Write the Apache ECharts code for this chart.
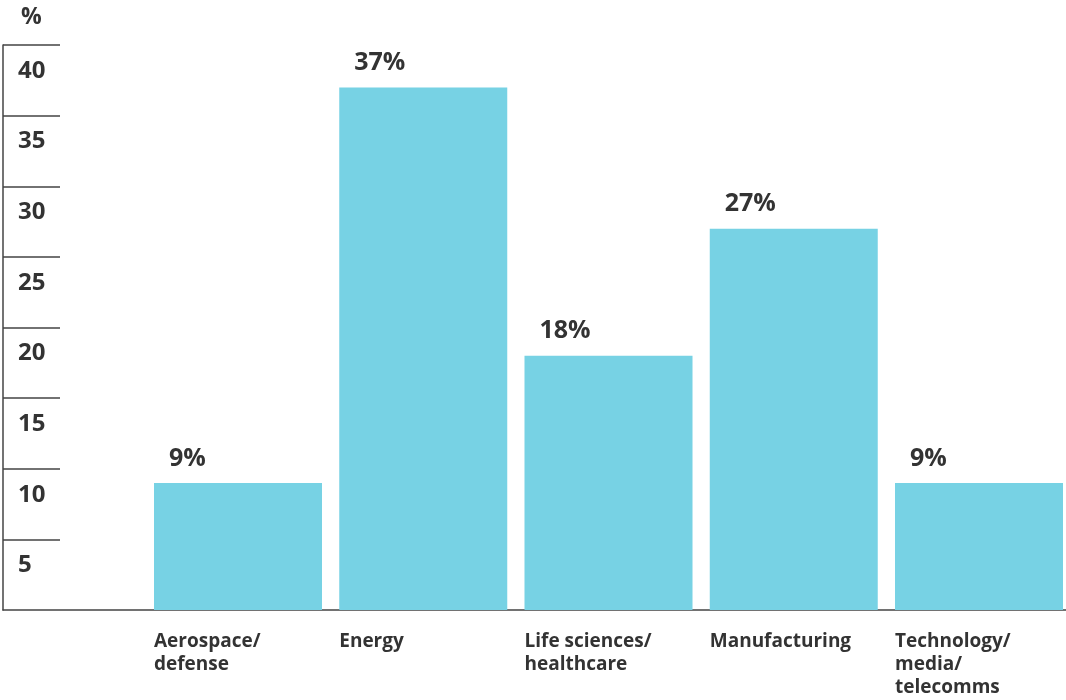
<!DOCTYPE html>
<html>
<head>
<meta charset="utf-8">
<script src="https://cdn.jsdelivr.net/npm/echarts@6/dist/echarts.min.js"></script>
<style>
  html, body { margin: 0; padding: 0; background: #fff; }
  #chart { width: 1066px; height: 700px; }
</style>
</head>
<body>
<div id="chart"></div>
<script>
const categories = ['Aerospace/\ndefense', 'Energy', 'Life sciences/\nhealthcare', 'Manufacturing', 'Technology/\nmedia/\ntelecomms'];
const values = [9, 37, 18, 27, 9];
const yMin = 0, yMax = 40, yStep = 5;
const yName = '%';

const FONT = '"Open Sans", "Noto Sans", sans-serif';
const TEXT = '#333333';
const LINE = '#444444';

const chart = echarts.init(document.getElementById('chart'), null, { renderer: 'canvas' });
chart.setOption({
  animation: false,
  textStyle: { fontFamily: FONT },
  grid: [
    { left: 3, right: 0, top: 45, bottom: 90 },
    { left: 238, right: 85, top: 45, bottom: 90 }
  ],
  xAxis: [
    {
      gridIndex: 0, type: 'category', data: [''],
      axisLine: { show: true, lineStyle: { color: LINE, width: 1.5 } },
      axisTick: { show: false }, axisLabel: { show: false }, splitLine: { show: false }
    },
    {
      gridIndex: 1, type: 'category', data: categories, boundaryGap: false,
      axisLine: { show: false }, axisTick: { show: false }, splitLine: { show: false },
      axisLabel: {
        interval: 0, margin: 20, align: 'center', verticalAlign: 'top',
        formatter: v => v.split('\n').map(s => '{a|' + s + '}').join('\n'),
        rich: {
          a: { width: 168, align: 'left', fontFamily: FONT, fontWeight: 'bold', fontSize: 19, lineHeight: 23, color: TEXT }
        }
      }
    }
  ],
  yAxis: [
    {
      gridIndex: 0, type: 'value', min: yMin, max: yMax, interval: yStep,
      name: yName, nameLocation: 'end', nameGap: 16,
      nameTextStyle: { align: 'left', padding: [0, 0, 0, 18], fontFamily: FONT, fontWeight: 'bold', fontSize: 23, color: TEXT, verticalAlign: 'bottom' },
      axisLine: { show: true, lineStyle: { color: LINE, width: 1.5 } },
      axisTick: { show: true, inside: true, length: 57, lineStyle: { color: LINE, width: 1.5 } },
      splitLine: { show: false },
      axisLabel: {
        inside: true, margin: 15, showMinLabel: false,
        verticalAlign: 'top', padding: [14, 0, 0, 0],
        fontFamily: FONT, fontWeight: 'bold', fontSize: 24, color: TEXT
      }
    },
    {
      gridIndex: 1, type: 'value', min: yMin, max: yMax, interval: yStep,
      show: false
    }
  ],
  series: [
    {
      type: 'bar', xAxisIndex: 1, yAxisIndex: 1, data: values,
      barWidth: 168, clip: false,
      itemStyle: { color: '#77D2E4' },
      label: {
        show: true, position: [15, -37], align: 'left', verticalAlign: 'top',
        formatter: '{c}%', fontFamily: FONT, fontWeight: 'bold', fontSize: 25, color: TEXT
      }
    }
  ]
});
</script>
</body>
</html>
